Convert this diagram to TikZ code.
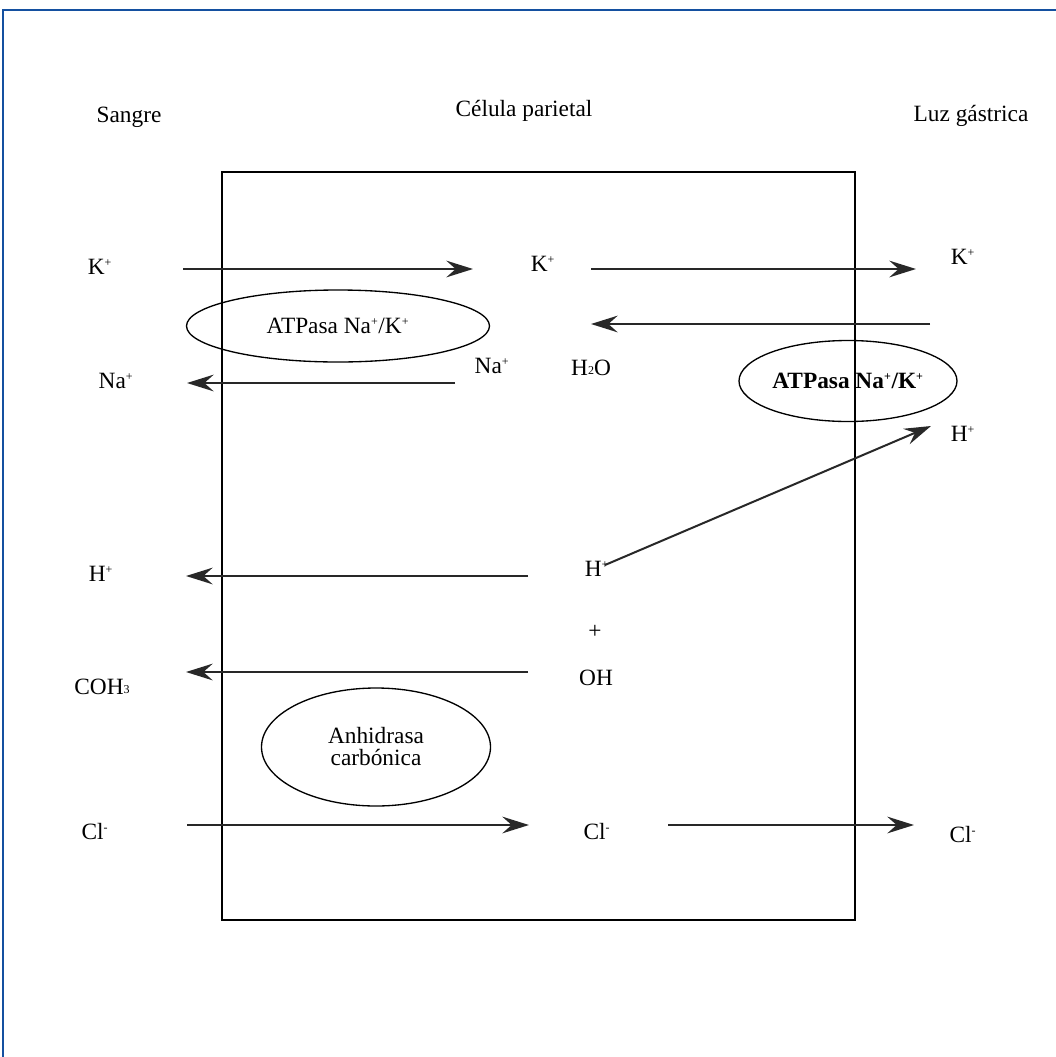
\documentclass[tikz,border=0pt]{standalone}
\usepackage{fontspec}
\setmainfont{Liberation Serif}
\usetikzlibrary{arrows.meta,shapes.geometric}
\definecolor{frameblue}{RGB}{20,80,160}
\definecolor{arrgray}{RGB}{40,40,40}
\tikzset{
  lbl/.style={font=\fontsize{17.5}{18}\selectfont, inner sep=0pt},
  oval/.style={draw=black, line width=1pt, ellipse, inner sep=0pt, font=\fontsize{17.5}{16.5}\selectfont, align=center},
  arr/.style={draw=arrgray, line width=1.5pt, -{Stealth[length=20pt,width=12.5pt,inset=7pt]}}
}
\newcommand{\mysup}[1]{\textsuperscript{\fontsize{9}{9}\selectfont #1}}
\newcommand{\mysub}[1]{\raisebox{0.1ex}{\fontsize{9}{9}\selectfont #1}}
\begin{document}
\begin{tikzpicture}[x=0.75pt,y=-0.75pt]
\useasboundingbox (0,0) rectangle (1056,1057);
\fill[white] (0,0) rectangle (1056,1057);
% outer partial frame
\draw[frameblue, line width=1.5pt] (3,1057) -- (3,10) -- (1056,10);
% cell
\draw[black, line width=1pt] (222,172) rectangle (855,920);
% headings
\node[lbl] (sangre) at (129,117) {Sangre};
\node[lbl] (celula) at (524,111) {Célula parietal};
\node[lbl] (luz) at (971,116) {Luz gástrica};
% K+
\node[lbl] (kl) at (100,267) {K\mysup{+}};
\node[lbl] (km) at (543,264) {K\mysup{+}};
\node[lbl] (kr) at (963,257) {K\mysup{+}};
\coordinate (k1a) at (183,269); \coordinate (k1b) at (473,269);
\coordinate (k2a) at (591,269); \coordinate (k2b) at (916,269);
\draw[arr] (k1a) -- (k1b);
\draw[arr] (k2a) -- (k2b);
\coordinate (k3a) at (930,324); \coordinate (k3b) at (591,324);
\draw[arr] (k3a) -- (k3b);
% ellipses ATPase
\node[oval, minimum width=303*0.75pt, minimum height=72*0.75pt] (atp1) at (338,326) {ATPasa Na\mysup{+}/K\mysup{+}};
\node[oval, minimum width=218*0.75pt, minimum height=81*0.75pt, font=\fontsize{17.5}{18}\selectfont\bfseries] (atp2) at (848,381) {ATPasa Na\mysup{+}/K\mysup{+}};
% Na+
\node[lbl] (nal) at (116,381) {Na\mysup{+}};
\node[lbl] (nam) at (492,366) {Na\mysup{+}};
\node[lbl] (h2o) at (591,368) {H\mysub{2}O};
\coordinate (naa) at (455,383); \coordinate (nab) at (187,383);
\draw[arr] (naa) -- (nab);
% H+
\node[lbl] (hr) at (963,434) {H\mysup{+}};
\node[lbl] (hm) at (597,569) {H\mysup{+}};
\node[lbl] (hl) at (101,574) {H\mysup{+}};
\coordinate (h1a) at (605,565); \coordinate (h1b) at (931,426);
\draw[arr] (h1a) -- (h1b);
\coordinate (h2a) at (528,576); \coordinate (h2b) at (186,576);
\draw[arr] (h2a) -- (h2b);
% + OH
\node[lbl] (plus) at (595,632) {+};
\node[lbl] (oh) at (596,678) {OH};
\node[lbl] (coh) at (102,687) {COH\mysub{3}};
\coordinate (o1a) at (528,672); \coordinate (o1b) at (186,672);
\draw[arr] (o1a) -- (o1b);
% anhidrasa
\node[oval, minimum width=229*0.75pt, minimum height=118*0.75pt] (anh) at (376,747) {Anhidrasa\\carbónica};
% Cl-
\node[lbl] (cll) at (95,832) {Cl\mysup{-}};
\node[lbl] (clm) at (597,832) {Cl\mysup{-}};
\node[lbl] (clr) at (963,835) {Cl\mysup{-}};
\coordinate (c1a) at (187,825); \coordinate (c1b) at (529,825);
\coordinate (c2a) at (668,825); \coordinate (c2b) at (914,825);
\draw[arr] (c1a) -- (c1b);
\draw[arr] (c2a) -- (c2b);
\end{tikzpicture}
\end{document}
